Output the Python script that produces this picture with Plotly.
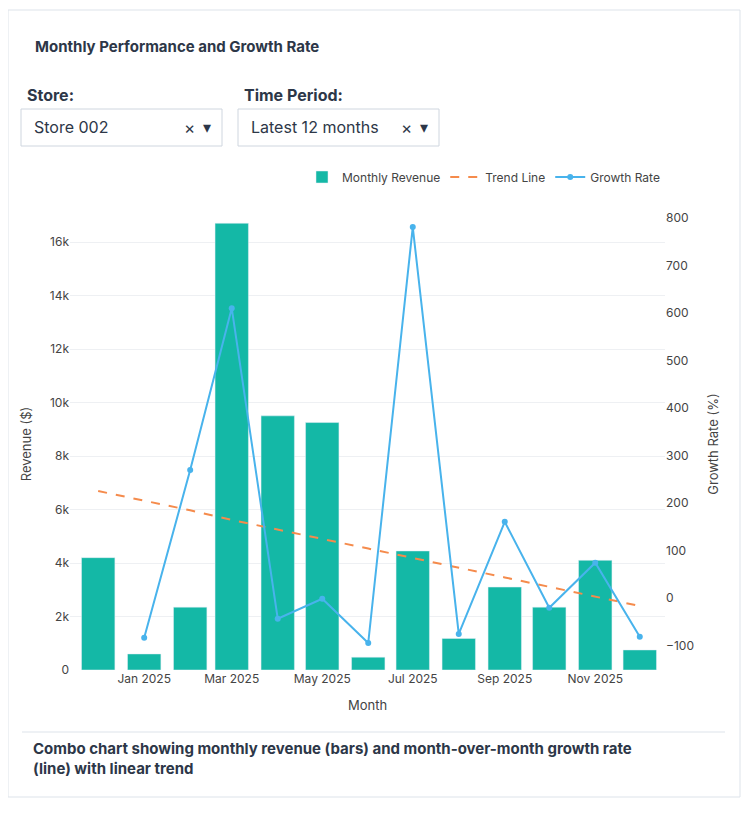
import plotly.graph_objects as go

months = ["2024-12-01", "2025-01-01", "2025-02-01", "2025-03-01", "2025-04-01", "2025-05-01", "2025-06-01",
          "2025-07-01", "2025-08-01", "2025-09-01", "2025-10-01", "2025-11-01", "2025-12-01"]
revenue = [4200, 600, 2350, 16700, 9500, 9250, 480, 4450, 1180, 3100, 2350, 4100, 750]
trend = [6690, 6330, 5970, 5610, 5260, 4900, 4540, 4180, 3820, 3460, 3110, 2750, 2390]
growth_months = months[1:]
growth = [-84, 269, 610, -44, -2, -95, 781, -76, 160, -21, 74, -82]

# page body adds an 8px margin, so the figure is drawn 8px smaller and positions shifted
OFF = 8
W, H = 750 - OFF, 813 - OFF
L, R, T, B = 62, 85, 210, 143
PW, PH = W - L - R, H - T - B

def px(x):
    return (x - OFF - L) / PW

def py(y):
    return (H - B - (y - OFF)) / PH

TEXT = "#2d3748"
FONT = "Inter, Roboto, sans-serif"

fig = go.Figure()
fig.add_trace(go.Bar(x=months, y=revenue, name="Monthly Revenue", marker_color="#14b8a6", width=30 * 86400000 * 0.75))
fig.add_trace(go.Scatter(x=months, y=trend, name="Trend Line", mode="lines",
                         line=dict(color="#f58b4c", dash="dash", width=2)))
fig.add_trace(go.Scatter(x=growth_months, y=growth, name="Growth Rate", mode="lines+markers", yaxis="y2",
                         line=dict(color="#48b3ec", width=2), marker=dict(size=6)))

shapes = [
    dict(type="rect", xref="paper", yref="paper", x0=px(8), x1=px(740), y0=py(10), y1=py(797),
         line=dict(color="#dde3ea", width=1), fillcolor="rgba(0,0,0,0)", layer="below"),
    dict(type="line", xref="paper", yref="paper", x0=px(22), x1=px(725), y0=py(732), y1=py(732),
         line=dict(color="#dde3ea", width=1)),
]
annotations = [
    dict(text="<b>Monthly Performance and Growth Rate</b>", x=px(33), y=py(46), font=dict(size=15)),
    dict(text="<b>Combo chart showing monthly revenue (bars) and month-over-month growth rate<br>(line) with linear trend</b>",
         x=px(31), y=py(758), font=dict(size=15), align="left"),
]
for x0, label, value in [(21, "Store:", "Store 002"), (238, "Time Period:", "Latest 12 months")]:
    shapes.append(dict(type="rect", xref="paper", yref="paper", x0=px(x0), x1=px(x0 + 201),
                       y0=py(109), y1=py(146), line=dict(color="#cfd6df", width=1), fillcolor="white"))
    annotations.append(dict(text="<b>" + label + "</b>", x=px(x0 + 4), y=py(95), font=dict(size=16)))
    annotations.append(dict(text=value, x=px(x0 + 11), y=py(127), font=dict(size=16)))
    annotations.append(dict(text="×", x=px(x0 + 161), y=py(128), font=dict(size=17)))
    annotations.append(dict(text="▾", x=px(x0 + 180), y=py(127), font=dict(size=16)))
for a in annotations:
    a.update(xref="paper", yref="paper", xanchor="left", yanchor="middle", showarrow=False)
    a["font"].update(color=TEXT, family=FONT)

fig.update_layout(
    width=W, height=H, margin=dict(l=L, r=R, t=T, b=B),
    paper_bgcolor="white", plot_bgcolor="white",
    font=dict(family=FONT, size=12, color="#444"),
    bargap=0.25,
    legend=dict(orientation="h", x=1, xanchor="right", y=py(177), yanchor="middle", font=dict(size=12)),
    xaxis=dict(title=dict(text="Month", font=dict(size=13)), tickformat="%b %Y", dtick="M2",
               tick0="2025-01-01", showgrid=False, range=["2024-11-12", "2025-12-18"],
               showline=False, ticks=""),
    yaxis=dict(title=dict(text="Revenue ($)", font=dict(size=13)), range=[0, 16897], dtick=2000,
               tickformat="~s", gridcolor="#eef0f3", zeroline=False),
    yaxis2=dict(title=dict(text="Growth Rate (%)", font=dict(size=13)), overlaying="y", side="right",
                range=[-152, 800], dtick=100, showgrid=False, zeroline=False),
    shapes=shapes, annotations=annotations,
)
fig.write_html("out.html")
